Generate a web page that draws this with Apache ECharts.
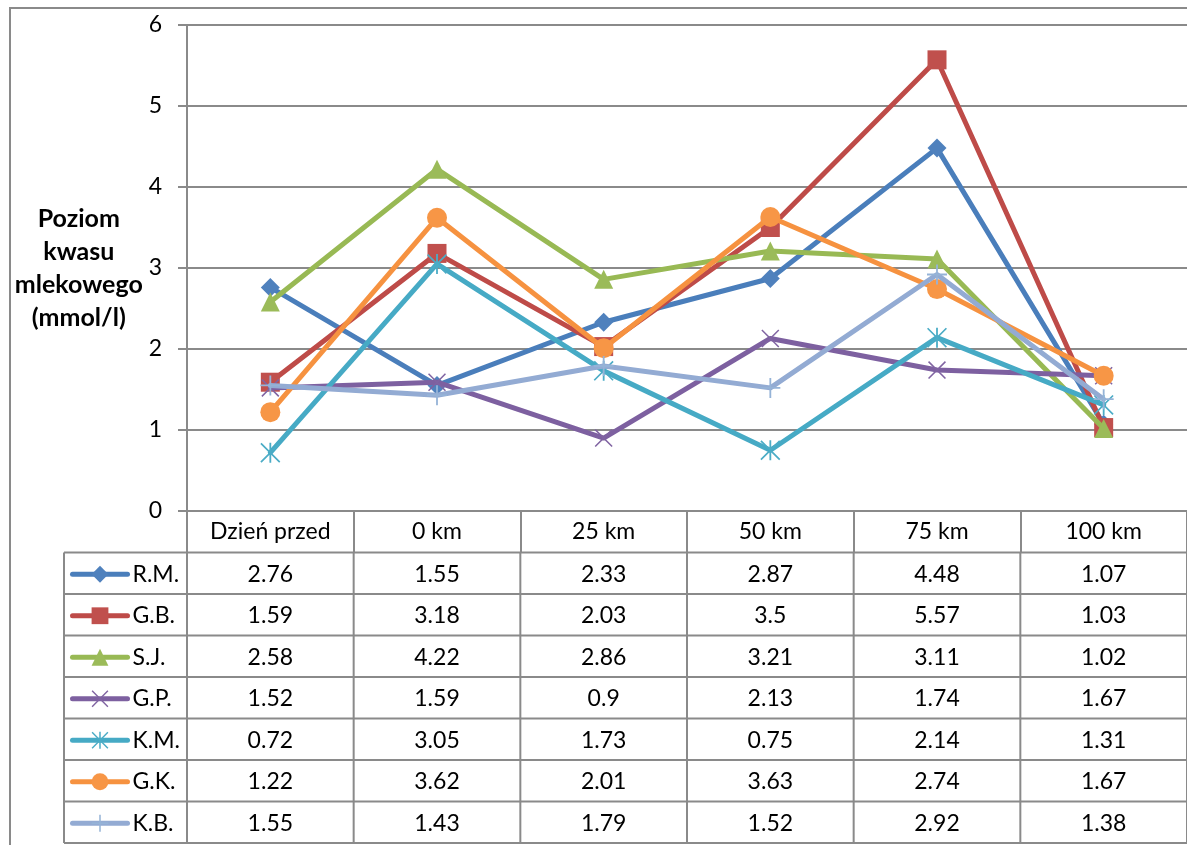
<!DOCTYPE html>
<html>
<head>
<meta charset="utf-8">
<script src="https://cdn.jsdelivr.net/npm/echarts@6/dist/echarts.min.js"></script>
<style>
  html, body { margin: 0; padding: 0; background: #ffffff; }
  #chart { width: 1187px; height: 845px; }
</style>
</head>
<body>
<div id="chart"></div>
<script>
// Categories (measurement points) and lactate values per athlete (mmol/l)
const categories = ['Dzień przed', '0 km', '25 km', '50 km', '75 km', '100 km'];
const seriesNames = ['R.M.', 'G.B.', 'S.J.', 'G.P.', 'K.M.', 'G.K.', 'K.B.'];
const rm = [2.76, 1.55, 2.33, 2.87, 4.48, 1.07];
const gb = [1.59, 3.18, 2.03, 3.5, 5.57, 1.03];
const sj = [2.58, 4.22, 2.86, 3.21, 3.11, 1.02];
const gp = [1.52, 1.59, 0.9, 2.13, 1.74, 1.67];
const km = [0.72, 3.05, 1.73, 0.75, 2.14, 1.31];
const gk = [1.22, 3.62, 2.01, 3.63, 2.74, 1.67];
const kb = [1.55, 1.43, 1.79, 1.52, 2.92, 1.38];
const yMin = 0, yMax = 6, yStep = 1;
const yTitle = 'Poziom\nkwasu\nmlekowego\n(mmol/l)';

const allValues = [rm, gb, sj, gp, km, gk, kb];

// Styling
const FONT = 'Lato, "Open Sans", sans-serif';
const GRID_GREY = '#8a8a8a';
const lineColors = ['#4A7EBB', '#BE4B48', '#98B954', '#7D60A0', '#46AAC5', '#F69240', '#93ABD3'];
const markerColors = ['#4F81BD', '#C0504D', '#9BBB59', '#8064A2', '#4BACC6', '#F79646', '#95B3D7'];
const LINE_W = 5;

// Thin-stroke markers drawn as filled outlines
const X_PATH = 'path://M0,1.2 L1.2,0 L20,18.8 L18.8,20 Z M18.8,0 L20,1.2 L1.2,20 L0,18.8 Z';
const STAR_PATH = 'path://M0,1.2 L1.2,0 L20,18.8 L18.8,20 Z M18.8,0 L20,1.2 L1.2,20 L0,18.8 Z M9.1,0 L10.9,0 L10.9,20 L9.1,20 Z';
const PLUS_PATH = 'path://M9.1,0 L10.9,0 L10.9,20 L9.1,20 Z M0,9.1 L20,9.1 L20,10.9 L0,10.9 Z';
const symbols = ['diamond', 'rect', 'triangle', X_PATH, STAR_PATH, 'circle', PLUS_PATH];
const symbolSizes = [19, 19, 19, 18, 20, 20, 20];

// Layout
const GRID_LEFT = 187, GRID_TOP = 25, GRID_W = 1010, GRID_H = 486;
const ROW_H = 41.5;
const TABLE_TOP = GRID_TOP + GRID_H + ROW_H; // first data row
const TABLE_LEFT = 64;

const chart = echarts.init(document.getElementById('chart'), null, { renderer: 'canvas' });

const series = seriesNames.map((name, i) => ({
  name: name,
  type: 'line',
  data: allValues[i],
  symbol: symbols[i],
  symbolSize: symbolSizes[i],
  showAllSymbol: true,
  color: markerColors[i],
  lineStyle: { color: lineColors[i], width: LINE_W, cap: 'round', join: 'round' },
  itemStyle: { color: markerColors[i], borderWidth: 0 },
  emphasis: { disabled: true },
  animation: false,
  z: 2 + i
}));

const legends = seriesNames.map((name, i) => ({
  data: [name],
  left: 70,
  top: TABLE_TOP + ROW_H * i + ROW_H / 2 - 10.5,
  padding: 0,
  itemWidth: 55,
  itemHeight: 21,
  itemGap: 5,
  selectedMode: false,
  lineStyle: { width: LINE_W },
  textStyle: { fontFamily: FONT, fontSize: 23, color: '#000' }
}));

chart.setOption({
  animation: false,
  backgroundColor: '#ffffff',
  textStyle: { fontFamily: FONT },
  grid: { left: GRID_LEFT, top: GRID_TOP, width: GRID_W, height: GRID_H, containLabel: false },
  legend: legends,
  xAxis: {
    type: 'category',
    data: categories,
    boundaryGap: true,
    axisLine: { show: true, lineStyle: { color: GRID_GREY, width: 2 } },
    axisTick: { show: true, interval: 0, length: ROW_H, lineStyle: { color: GRID_GREY, width: 2 } },
    axisLabel: { interval: 0, margin: 9, fontFamily: FONT, fontSize: 23, color: '#000' },
    splitLine: { show: false }
  },
  yAxis: {
    type: 'value',
    min: yMin, max: yMax, interval: yStep,
    name: yTitle,
    nameLocation: 'middle',
    nameRotate: 0,
    nameGap: 105,
    nameTextStyle: {
      fontFamily: FONT, fontSize: 25, fontWeight: 'bold', color: '#000',
      align: 'center', verticalAlign: 'middle', lineHeight: 33
    },
    axisLine: { show: true, lineStyle: { color: GRID_GREY, width: 2 } },
    axisTick: { show: true, length: 9, lineStyle: { color: GRID_GREY, width: 2 } },
    axisLabel: { margin: 25, fontFamily: FONT, fontSize: 23, color: '#000' },
    splitLine: { show: true, lineStyle: { color: GRID_GREY, width: 2 } }
  },
  series: series
});

// Data table under the plot, aligned with the category axis
const centers = categories.map((c, i) => chart.convertToPixel({ xAxisIndex: 0 }, i));
const colW = centers.length > 1 ? centers[1] - centers[0] : GRID_W;
const tableRight = centers[centers.length - 1] + colW / 2;
const tableBottom = TABLE_TOP + ROW_H * seriesNames.length;

const graphics = [];
// chart frame
graphics.push({
  type: 'rect', silent: true, z: 0,
  shape: { x: 10, y: 8, width: 1300, height: 1000 },
  style: { fill: null, stroke: GRID_GREY, lineWidth: 2 }
});
// horizontal rules
for (let k = 0; k <= seriesNames.length; k++) {
  const y = TABLE_TOP + ROW_H * k;
  graphics.push({
    type: 'line', silent: true, z: 1,
    shape: { x1: TABLE_LEFT, y1: y, x2: tableRight, y2: y },
    style: { stroke: GRID_GREY, lineWidth: 2 }
  });
}
// vertical rules
const vx = [TABLE_LEFT].concat(centers.map(c => c - colW / 2), [tableRight]);
vx.forEach(x => {
  graphics.push({
    type: 'line', silent: true, z: 1,
    shape: { x1: x, y1: TABLE_TOP, x2: x, y2: tableBottom },
    style: { stroke: GRID_GREY, lineWidth: 2 }
  });
});
// cell values
allValues.forEach((vals, r) => {
  vals.forEach((v, c) => {
    graphics.push({
      type: 'text', silent: true, z: 3,
      x: centers[c], y: TABLE_TOP + ROW_H * r + ROW_H / 2 + 1,
      style: {
        text: String(v), fontFamily: FONT, fontSize: 23, fill: '#000',
        align: 'center', verticalAlign: 'middle'
      }
    });
  });
});

chart.setOption({ graphic: graphics });
</script>
</body>
</html>
